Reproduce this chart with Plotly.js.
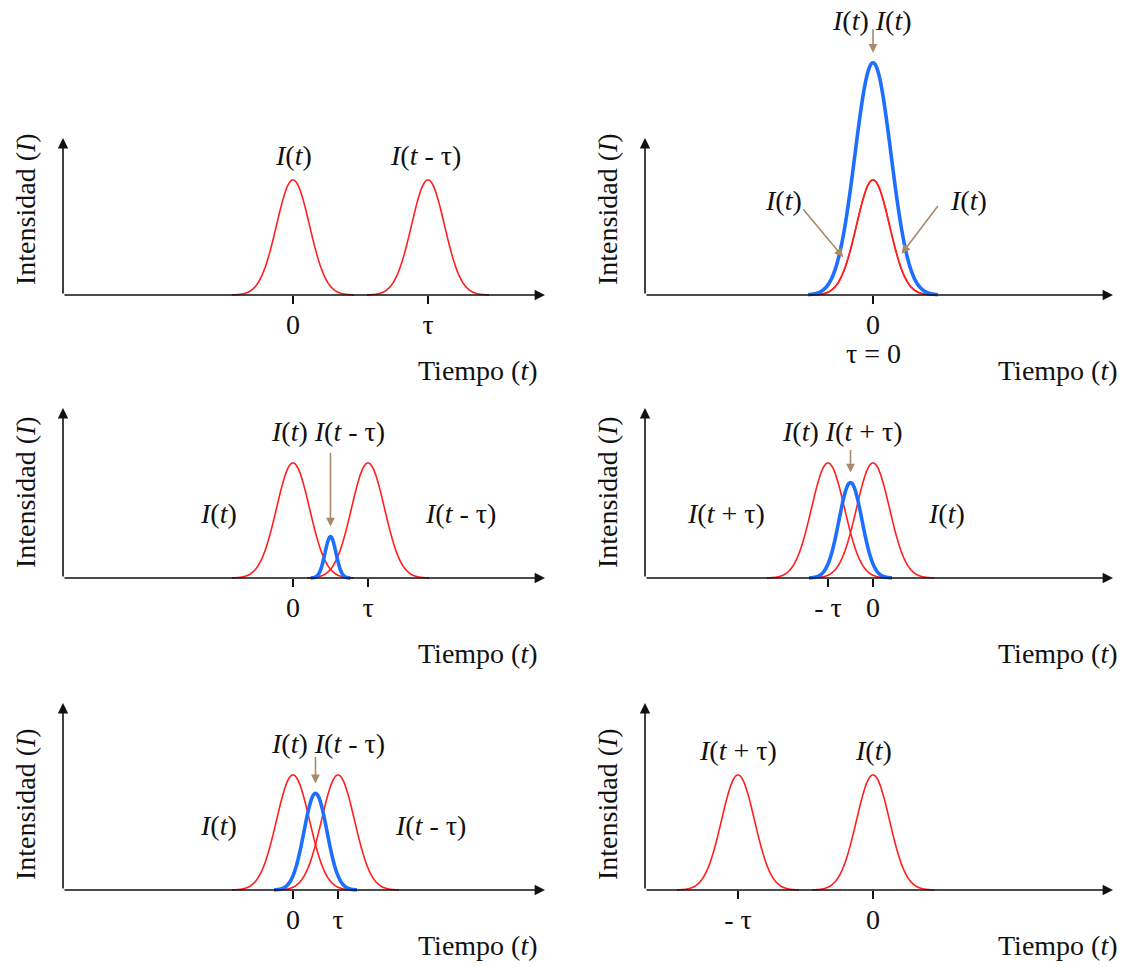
<!DOCTYPE html>
<html>
<head>
<meta charset="utf-8">
<script src="https://cdn.plot.ly/plotly-3.0.1.min.js"></script>
<style>
  html, body { margin: 0; padding: 0; background: #ffffff; }
  #chart { width: 1125px; height: 967px; }
</style>
</head>
<body>
<div id="chart"></div>
<script>
// ---- Pulse data, one entry per panel (left to right, top to bottom) ----
// Time is measured in units where the reference pulse I(t) sits at 0.
const referencePulseAt = [0, 0, 0, 0, 0, 0];
const shiftedPulseAt   = [13.5, 0, 7.5, -4.5, 4.5, -13.5];
const pulsePeak  = 1.0;
const pulseWidth = 1.65;

// Blue product curve I(t)·I(t ∓ τ): centre, peak height and width (null = none)
const productCentre = [null, 0, 3.75, -2.25, 2.25, null];
const productPeak   = [null, 2.02, 0.36, 0.83, 0.84, null];
const productWidth  = [null, 1.8, 0.55, 1.15, 1.15, null];

// Tick labels on the time axis
const referenceTickLabel = ['0', '0', '0', '0', '0', '0'];
const shiftedTickLabel   = ['τ', null, 'τ', '- τ', 'τ', '- τ'];

// Text labels
const LBL_I      = '<i>I</i>(<i>t</i>)';
const LBL_MINUS  = '<i>I</i>(<i>t</i> - τ)';
const LBL_PLUS   = '<i>I</i>(<i>t</i> + τ)';
const productLabel = [null, LBL_I + ' ' + LBL_I, LBL_I + ' ' + LBL_MINUS,
                      LBL_I + ' ' + LBL_PLUS, LBL_I + ' ' + LBL_MINUS, null];
const xTitle = 'Tiempo (<i>t</i>)';
const yTitle = 'Intensidad (<i>I</i>)';

// ---- Page geometry (pixels) ----
const W = 1125, H = 967;
const FONT = 'Liberation Serif, Times New Roman, serif';
const FS = 28;
const RED = '#ff1f1f', BLUE = '#1f6fff', BROWN = '#a8896a', INK = '#111111';

const rowBase    = [295, 578, 890];   // baseline of each row
const rowAxisTop = [138, 408, 703];   // tip of the vertical arrow
const rowPlotTop = [40, 395, 690];    // top of the drawing area
const rowTitleY   = [370, 653, 945];
const colAxisX = [63, 645];
const colZeroX = [293, 873];
const colTipX  = [545, 1113];
const colTitleRight = [540, 1120];
const colYTitleX = [25, 607];
const PX_T = 10, PX_I = 115, PAD = 0.06;

const gauss = (t, c, a, w) => a * Math.exp(-((t - c) * (t - c)) / (2 * w * w));
function pulseTrace(c, a, w, reach, color, width, s) {
  const xs = [], ys = [], n = 200;
  for (let i = 0; i <= n; i++) {
    const t = c - reach * w + (2 * reach * w) * i / n;
    xs.push(t); ys.push(gauss(t, c, a, w));
  }
  return { type: 'scatter', mode: 'lines', x: xs, y: ys, xaxis: 'x' + s, yaxis: 'y' + s,
           line: { color: color, width: width, shape: 'spline' }, hoverinfo: 'skip', showlegend: false };
}
const paperPt = (xp, yp) => ({ xref: 'paper', yref: 'paper', x: xp / W, y: 1 - yp / H });
const txt = (text, extra) => Object.assign({ text: text, showarrow: false,
  font: { family: FONT, size: FS, color: INK }, xanchor: 'center', yanchor: 'middle' }, extra);

const traces = [];
const layout = {
  width: W, height: H, margin: { l: 0, r: 0, t: 0, b: 0 },
  paper_bgcolor: '#ffffff', plot_bgcolor: 'rgba(0,0,0,0)',
  showlegend: false, annotations: []
};
const ann = layout.annotations;

for (let k = 0; k < 6; k++) {
  const r = Math.floor(k / 2), c = k % 2;
  const s = k === 0 ? '' : String(k + 1);
  const xmin = (colAxisX[c] - colZeroX[c]) / PX_T;
  const xmax = (colTipX[c] - colZeroX[c]) / PX_T;
  const ytop = (rowBase[r] - rowPlotTop[r]) / PX_I;
  const yAxisTop = (rowBase[r] - rowAxisTop[r]) / PX_I;

  // curves
  traces.push(pulseTrace(referencePulseAt[k], pulsePeak, pulseWidth, 3.7, RED, 1.6, s));
  traces.push(pulseTrace(shiftedPulseAt[k], pulsePeak, pulseWidth, 3.7, RED, 1.6, s));
  if (productPeak[k] !== null) {
    traces.push(pulseTrace(productCentre[k], productPeak[k], productWidth[k], 3.6, BLUE, 3.6, s));
  }

  // axes
  const tv = [referencePulseAt[k]], tt = [referenceTickLabel[k]];
  if (shiftedTickLabel[k] !== null) { tv.push(shiftedPulseAt[k]); tt.push(shiftedTickLabel[k]); }
  layout['xaxis' + s] = {
    domain: [colAxisX[c] / W, colTipX[c] / W], range: [xmin, xmax],
    anchor: 'free', position: 1 - rowBase[r] / H,
    showgrid: false, zeroline: false, showline: false, fixedrange: true,
    tickmode: 'array', tickvals: tv, ticktext: tt,
    ticks: 'outside', ticklen: 8, tickwidth: 1.6, tickcolor: INK,
    ticklabelstandoff: -4,
    tickfont: { family: FONT, size: FS, color: INK }
  };
  layout['yaxis' + s] = {
    domain: [1 - (rowBase[r] + PAD * PX_I) / H, 1 - rowPlotTop[r] / H],
    range: [-PAD, ytop], visible: false, fixedrange: true, anchor: 'x' + s
  };

  // axis arrows
  ann.push({ xref: 'x' + s, yref: 'y' + s, axref: 'x' + s, ayref: 'y' + s,
    x: xmax, y: 0, ax: xmin, ay: 0, text: '', showarrow: true,
    arrowhead: 2, arrowsize: 1.3, arrowwidth: 1.6, arrowcolor: INK });
  ann.push({ xref: 'x' + s, yref: 'y' + s, axref: 'x' + s, ayref: 'y' + s,
    x: xmin, y: yAxisTop, ax: xmin, ay: 0, text: '', showarrow: true,
    arrowhead: 2, arrowsize: 1.3, arrowwidth: 1.6, arrowcolor: INK });

  // axis titles
  ann.push(txt(xTitle, Object.assign(paperPt(colTitleRight[c], rowTitleY[r]), { xanchor: 'right' })));
  ann.push(txt(yTitle, Object.assign(paperPt(colYTitleX[c], rowBase[r] - 86), { textangle: -90 })));

  // arrow pointing at the product peak
  if (productPeak[k] !== null) {
    const tail = [-25, -75, -24, -28][[1, 2, 3, 4].indexOf(k)];
    ann.push({ xref: 'x' + s, yref: 'y' + s, x: productCentre[k], y: productPeak[k],
      ax: 0, ay: tail - 10, text: '', showarrow: true, standoff: 10,
      arrowhead: 2, arrowsize: 1.1, arrowwidth: 1.6, arrowcolor: BROWN });
  }
}

// pulse labels placed over the peaks (top-left and bottom-right panels)
ann.push(txt(LBL_I,     { xref: 'x',  yref: 'y',  x: referencePulseAt[0], y: pulsePeak, yshift: 25 }));
ann.push(txt(LBL_MINUS, { xref: 'x',  yref: 'y',  x: shiftedPulseAt[0] - 0.3, y: pulsePeak, yshift: 25 }));
ann.push(txt(LBL_PLUS,  { xref: 'x6', yref: 'y6', x: shiftedPulseAt[5],   y: pulsePeak, yshift: 25 }));
ann.push(txt(LBL_I,     { xref: 'x6', yref: 'y6', x: referencePulseAt[5], y: pulsePeak, yshift: 25 }));

// product labels
ann.push(txt(productLabel[1], paperPt(872, 20)));
ann.push(txt(productLabel[2], paperPt(328, 432)));
ann.push(txt(productLabel[3], paperPt(842, 432)));
ann.push(txt(productLabel[4], paperPt(328, 743)));

// side labels
ann.push(txt(LBL_I,     paperPt(218, 513)));
ann.push(txt(LBL_MINUS, paperPt(460, 513)));
ann.push(txt(LBL_PLUS,  paperPt(726, 513)));
ann.push(txt(LBL_I,     paperPt(946, 513)));
ann.push(txt(LBL_I,     paperPt(218, 825)));
ann.push(txt(LBL_MINUS, paperPt(430, 825)));
ann.push(txt('τ = 0',   paperPt(873, 353)));

// τ = 0 panel: labels with arrows onto the red pulse flanks
ann.push(txt(LBL_I, paperPt(783, 200)));
ann.push(txt(LBL_I, paperPt(968, 200)));
[-2.6, 2.5].forEach(function (tx, i) {
  ann.push({ xref: 'x2', yref: 'y2', x: tx, y: gauss(tx, referencePulseAt[1], pulsePeak, pulseWidth),
    ax: i === 0 ? -45 : 41, ay: -54, text: '', showarrow: true, standoff: 6,
    arrowhead: 2, arrowsize: 1.1, arrowwidth: 1.6, arrowcolor: BROWN });
});

Plotly.newPlot('chart', traces, layout, { staticPlot: true, displayModeBar: false });
</script>
</body>
</html>
